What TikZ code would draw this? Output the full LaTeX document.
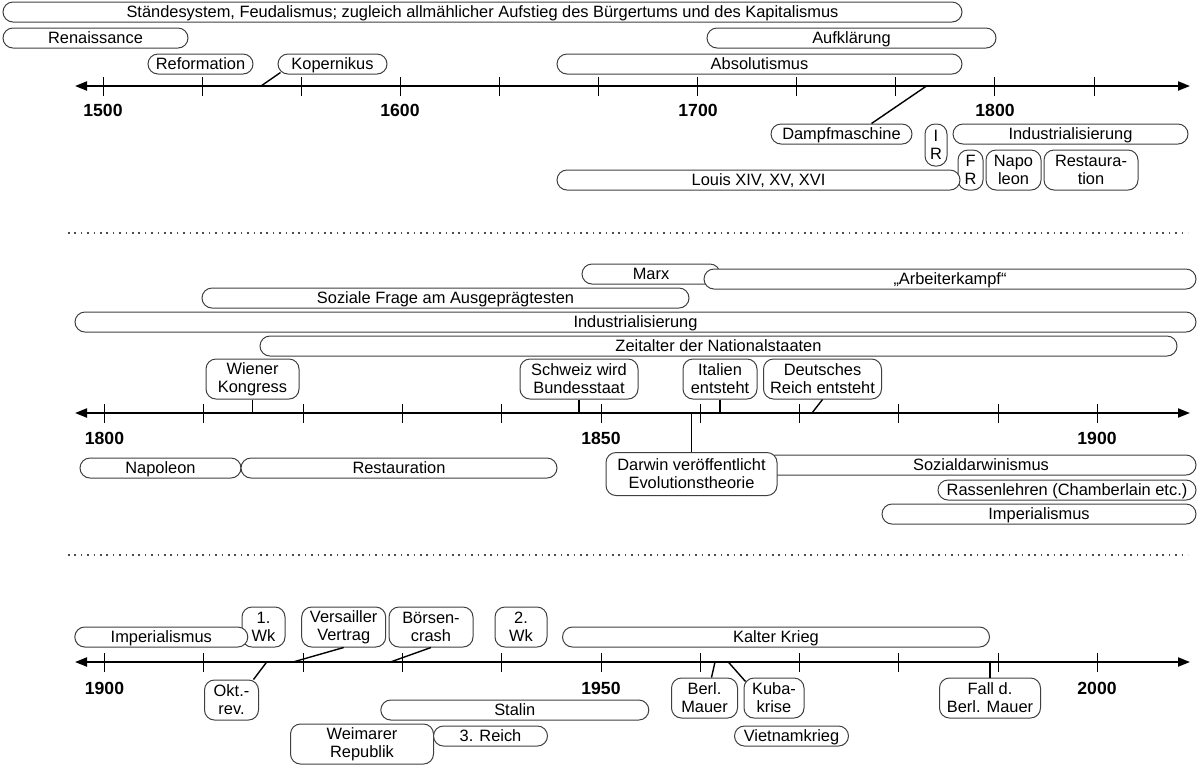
\documentclass[tikz,border=0pt]{standalone}
\usepackage{fontspec}
\setmainfont{Liberation Sans}
\usetikzlibrary{arrows.meta}

\begin{document}
\begin{tikzpicture}[x=0.5pt,y=-0.5pt,
	box/.style={draw=black!75, line width=0.5pt, fill=white, rounded corners=5pt, inner xsep=1pt, inner ysep=0pt, font=\fontsize{8.2}{9}\selectfont},
	era/.style={box, minimum height=10pt, text height=5.9pt, text depth=0.7pt},
	era2/.style={box, minimum height=20pt, align=center},
	year/.style={font=\fontsize{8.8}{10}\selectfont\bfseries},
	axis/.style={line width=1pt, {Triangle[length=6pt,width=4.5pt]}-{Triangle[length=6pt,width=4.5pt]}},
	link/.style={line width=0.7pt},
	sep/.style={line width=0.8pt, black!70, dash pattern=on 0.8pt off 2.4pt}]
		\useasboundingbox (0,0) rectangle (1200,768);

		\coordinate (ax1l) at (75,86);
		\coordinate (ax1r) at (1190,86);
		\draw[axis] (ax1l) -- (ax1r);
		\foreach \i in {0,...,10} \draw[line width=0.5pt] ({103+99.1*\i},77) -- ({103+99.1*\i},96);
		\node[year] (y1500) at (103,110) {1500};
		\node[year] (y1600) at (400,110) {1600};
		\node[year] (y1700) at (698,110) {1700};
		\node[year] (y1800) at (995,110) {1800};

		\node[era, minimum width=479.5pt] (staende) at (482.5,12) {Ständesystem, Feudalismus; zugleich allmählicher Aufstieg des Bürgertums und des Kapitalismus};
		\node[era, minimum width=92.5pt] (renaissance) at (95.5,38) {Renaissance};
		\node[era, minimum width=144.5pt] (aufklaerung) at (851.5,38) {Aufklärung};
		\node[era, minimum width=52.5pt] (reformation) at (200.5,64) {Reformation};
		\node[era, minimum width=54.5pt] (kopernikus) at (332.5,64) {Kopernikus};
		\node[era, minimum width=202.5pt] (absolutismus) at (759.5,64) {Absolutismus};
		\node[era, minimum width=70.5pt] (dampf) at (841.5,134) {Dampfmaschine};
		\node[era2, minimum width=11pt, minimum height=21pt] (ir) at (936,145) {I\\R};
		\node[era, minimum width=117.5pt] (indust1) at (1070.5,134) {Industrialisierung};
		\node[era2, minimum width=12.5pt] (fr) at (970.5,170) {F\\R};
		\node[era2, minimum width=27.5pt] (napoleon1) at (1013.5,170) {Napo\\leon};
		\node[era2, minimum width=47pt] (restauration1) at (1091,170) {Restaura-\\tion};
		\node[era, minimum width=201.5pt] (louis) at (758.5,180) {Louis XIV, XV, XVI};

		\coordinate (kop) at (261,86);
		\coordinate (dam) at (926.5,86);
		\draw[link] ([xshift=1.5pt,yshift=1pt]kopernikus.south west) -- (kop);
		\draw[link] ([xshift=15pt]dampf.north) -- (dam);

		\draw[sep] (68,233) -- (1188,233);

		\coordinate (ax2l) at (75,413);
		\coordinate (ax2r) at (1190,413);
		\draw[axis] (ax2l) -- (ax2r);
		\foreach \i in {0,...,10} \draw[line width=0.5pt] ({104.5+99.3*\i},404) -- ({104.5+99.3*\i},423);
		\node[year] (y1800b) at (104.5,438) {1800};
		\node[year] (y1850) at (601,438) {1850};
		\node[year] (y1900) at (1097,438) {1900};

		\node[era, minimum width=69pt] (marx) at (651,274) {Marx};
		\node[era, minimum width=246pt] (arbeit) at (950,279) {„Arbeiterkampf“};
		\node[era, minimum width=243.5pt] (sozfrage) at (445.5,298) {Soziale Frage am Ausgeprägtesten};
		\node[era, minimum width=560.5pt] (indust2) at (635.5,322) {Industrialisierung};
		\node[era, minimum width=458.5pt] (zeitalter) at (718.5,346) {Zeitalter der Nationalstaaten};
		\node[era2, minimum width=46.5pt] (wiener) at (252.5,379) {Wiener\\Kongress};
		\node[era2, minimum width=59pt] (schweiz) at (579,379) {Schweiz wird\\Bundesstaat};
		\node[era2, minimum width=37pt] (italien) at (720,379) {Italien\\entsteht};
		\node[era2, minimum width=59pt] (deutsch) at (822.5,379) {Deutsches\\Reich entsteht};

		\node[era, minimum width=80.5pt] (napoleon2) at (160.5,468) {Napoleon};
		\node[era, minimum width=158pt] (restauration2) at (399,468) {Restauration};
		\node[era, minimum width=215pt] (sozdarw) at (981,465) {Sozialdarwinismus};
		\node[era2, minimum width=85.5pt, minimum height=21.5pt] (darwin) at (691.5,474) {Darwin veröffentlicht\\Evolutionstheorie};
		\node[era, minimum width=129pt] (rassen) at (1067,490) {Rassenlehren (Chamberlain etc.)};
		\node[era, minimum width=157pt] (imper2) at (1039,514) {Imperialismus};

		\coordinate (deu) at (812,413);
		\draw[link] (wiener.south) -- (wiener.south |- ax2l);
		\draw[link] (schweiz.south) -- (schweiz.south |- ax2l);
		\draw[link] (italien.south) -- (italien.south |- ax2l);
		\draw[link] (deutsch.south) -- (deu);
		\draw[link] (darwin.north) -- (darwin.north |- ax2l);

		\draw[sep] (68,555) -- (1188,555);

		\coordinate (ax3l) at (75,662);
		\coordinate (ax3r) at (1190,662);
		\draw[axis] (ax3l) -- (ax3r);
		\foreach \i in {0,...,10} \draw[line width=0.5pt] ({104.5+99.3*\i},653) -- ({104.5+99.3*\i},672);
		\node[year] (y1900b) at (104.5,688) {1900};
		\node[year] (y1950) at (601,688) {1950};
		\node[year] (y2000) at (1097,688) {2000};

		\node[era2, minimum width=21.5pt] (wk1) at (263.5,627) {1.\\Wk};
		\node[era, minimum width=86.5pt] (imper3) at (161.3,637) {Imperialismus};
		\node[era2, minimum width=42pt] (versailles) at (343.7,627) {Versailler\\Vertrag};
		\node[era2, minimum width=42pt] (boersen) at (431,627) {Börsen-\\crash};
		\node[era2, minimum width=26pt] (wk2) at (521,627) {2.\\Wk};
		\node[era, minimum width=213.5pt] (kalter) at (776,637) {Kalter Krieg};
		\node[era2, minimum width=27pt] (okt) at (231.5,700) {Okt.-\\rev.};
		\node[era2, minimum width=33pt] (berl) at (704.5,698) {Berl.\\Mauer};
		\node[era2, minimum width=30pt] (kuba) at (774,698) {Kuba-\\krise};
		\node[era2, minimum width=50.5pt] (fall) at (990,698) {Fall d.\\Berl. Mauer};
		\node[era, minimum width=134pt] (stalin) at (514.8,710) {Stalin};
		\node[era2, minimum width=71.5pt] (weimar) at (362,744) {Weimarer\\Republik};
		\node[era, minimum width=57pt] (reich3) at (490.5,736) {3. Reich};
		\node[era, minimum width=57pt] (vietnam) at (791.5,736) {Vietnamkrieg};

		\coordinate (okr) at (266.7,662);
		\coordinate (ver) at (293,662);
		\coordinate (boe) at (390.4,662);
		\coordinate (mau) at (715,662);
		\coordinate (kub) at (728.3,662);
		\draw[link] ([xshift=11pt]okt.north) -- (okr);
		\draw[link] (versailles.south) -- (ver);
		\draw[link] (boersen.south) -- (boe);
		\draw[link] ([xshift=3.5pt]berl.north) -- (mau);
		\draw[link] ([xshift=1pt,yshift=-2pt]kuba.north west) -- (kub);
		\draw[link] (fall.north) -- (fall.north |- ax3l);
\end{tikzpicture}
\end{document}
